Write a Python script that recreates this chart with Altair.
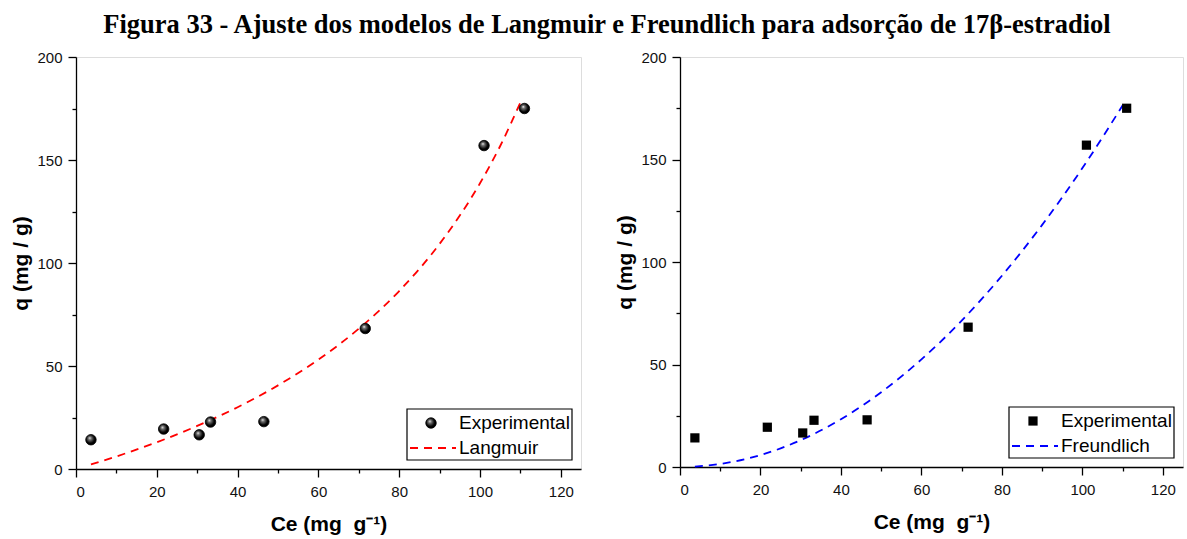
import altair as alt
import pandas as pd

ce_exp = [3.7, 21.7, 30.5, 33.3, 46.5, 71.6, 101.0, 111.0]
q_exp = [14.2, 19.4, 16.6, 22.8, 23.0, 68.2, 157.0, 175.0]

# Langmuir fitted curve
lang_ce = [3.7, 10, 20, 30, 40, 50, 60, 70, 80, 90, 100, 105, 110]
lang_q = [2.2, 6.1, 13.0, 20.9, 30.0, 40.6, 53.1, 68.1, 86.4, 109.3, 138.7, 156.8, 177.9]

# Freundlich fitted curve
freu_ce = [3.7, 10, 20, 30, 40, 50, 60, 70, 80, 90, 100, 110]
freu_q = [0.2, 1.5, 5.8, 13.1, 23.3, 36.5, 52.5, 71.4, 93.3, 118.1, 145.8, 176.4]

x_ticks = [0, 10, 20, 30, 40, 50, 60, 70, 80, 90, 100, 110, 120]
y_ticks = [0, 25, 50, 75, 100, 125, 150, 175, 200]

legend_left = ["Experimental", "Langmuir"]
legend_right = ["Experimental", "Freundlich"]

FONT = "Liberation Sans"

exp_df = pd.DataFrame({"ce": ce_exp, "q": q_exp})
lang_df = pd.DataFrame({"ce": lang_ce, "q": lang_q})
freu_df = pd.DataFrame({"ce": freu_ce, "q": freu_q})

xaxis = alt.Axis(
    values=x_ticks,
    labelExpr="datum.value % 20 === 0 ? datum.label : ''",
    tickSize={"condition": {"test": "datum.value % 20 === 0", "value": 8}, "value": 4},
    title="Ce (mg\u00a0\u00a0g⁻¹)",
    grid=False,
    titleFontSize=21,
    titleFontWeight="bold",
    titleFont=FONT,
    titleColor="black",
    labelFont=FONT,
    labelFontSize=15,
    labelColor="#111",
    tickColor="black",
    domainColor="black",
    domainWidth=1.3,
    tickWidth=1.3,
    labelPadding=7,
    titlePadding=14,
)
yaxis = alt.Axis(
    values=y_ticks,
    labelExpr="datum.value % 50 === 0 ? datum.label : ''",
    tickSize={"condition": {"test": "datum.value % 50 === 0", "value": 8}, "value": 4},
    title="q (mg / g)",
    grid=False,
    titleFontSize=21,
    titleFontWeight="bold",
    titleFont=FONT,
    titleColor="black",
    labelFont=FONT,
    labelFontSize=15,
    labelColor="#111",
    tickColor="black",
    domainColor="black",
    domainWidth=1.3,
    tickWidth=1.3,
    labelPadding=6,
    titlePadding=5,
)

xs = alt.Scale(domain=[0, 125], nice=False, zero=False)
ys = alt.Scale(domain=[0, 200], nice=False, zero=False)

sphere = alt.RadialGradient(
    gradient="radial",
    stops=[
        alt.GradientStop(color="#ffffff", offset=0),
        alt.GradientStop(color="#777777", offset=0.25),
        alt.GradientStop(color="#000000", offset=0.75),
    ],
    x1=0.38, y1=0.33, r1=0, x2=0.45, y2=0.45, r2=0.55,
)


def symbol_mark(data, sym):
    if sym == "circle":
        return alt.Chart(data).mark_point(
            shape="circle", filled=True, fill=sphere, stroke="black",
            strokeWidth=0.8, size=110, opacity=1
        )
    return alt.Chart(data).mark_point(
        shape="square", filled=True, color="black", size=85, opacity=1
    )


def panel(curve_df, color, labels, sym, w, h):
    pts = symbol_mark(exp_df, sym).encode(
        x=alt.X("ce:Q", scale=xs, axis=xaxis),
        y=alt.Y("q:Q", scale=ys, axis=yaxis),
    )
    line = alt.Chart(curve_df).mark_line(
        color=color, strokeWidth=1.8, strokeDash=[8, 6], interpolate="monotone"
    ).encode(
        x=alt.X("ce:Q", scale=xs, axis=xaxis),
        y=alt.Y("q:Q", scale=ys, axis=yaxis),
    )

    ldf = pd.DataFrame({"label": labels})
    first = ldf.iloc[[0]]
    second = ldf.iloc[[1]]
    box = alt.Chart(first).mark_rect(
        fill="white", stroke="black", strokeWidth=1.2
    ).encode(x=alt.value(w - 174), x2=alt.value(w - 9),
             y=alt.value(h - 60), y2=alt.value(h - 9))
    lsym = symbol_mark(first, sym).encode(x=alt.value(w - 150), y=alt.value(h - 46))
    lline = alt.Chart(second).mark_rule(
        color=color, strokeWidth=1.8, strokeDash=[8, 6]
    ).encode(x=alt.value(w - 171), x2=alt.value(w - 125), y=alt.value(h - 21))
    t1 = alt.Chart(first).mark_text(
        align="left", baseline="middle", font=FONT, fontSize=19, color="black"
    ).encode(x=alt.value(w - 122), y=alt.value(h - 46), text="label:N")
    t2 = alt.Chart(second).mark_text(
        align="left", baseline="middle", font=FONT, fontSize=19, color="black"
    ).encode(x=alt.value(w - 122), y=alt.value(h - 21), text="label:N")
    return alt.layer(line, pts, box, lsym, lline, t1, t2).properties(width=w, height=h)


left = panel(lang_df, "#ff0000", legend_left, "circle", 505, 412)
right = panel(freu_df, "#0000ff", legend_right, "square", 503, 410)

chart = alt.hconcat(left, right, spacing=32).properties(
    title=alt.TitleParams(
        "Figura 33 - Ajuste dos modelos de Langmuir e Freundlich para adsorção de 17β-estradiol",
        font="Liberation Serif", fontSize=26.5, fontWeight="bold", color="black",
        anchor="middle", offset=11, dx=10,
    ),
    padding={"left": 10, "top": 12, "right": 0, "bottom": 0},
).configure_view(stroke="black", strokeWidth=1.3).configure(background="white")

chart.save("out.html", embed_options={"renderer": "svg", "actions": False})
